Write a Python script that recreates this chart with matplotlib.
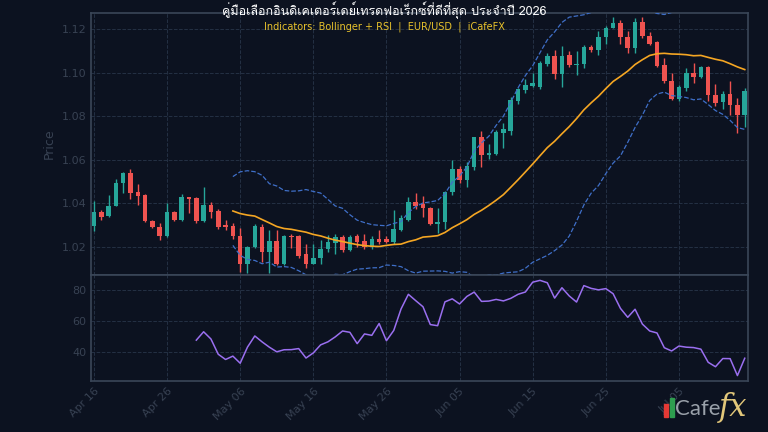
import matplotlib
matplotlib.use("Agg")
import matplotlib.pyplot as plt
import matplotlib.dates as mdates
from matplotlib import font_manager
from matplotlib.ft2font import FT2Font
import numpy as np
import pandas as pd

# EUR/USD daily candles (Apr 16 -> Jul 14)
start_date = "2026-04-16"
opens = [1.0298, 1.0361, 1.0341, 1.0390, 1.0495, 1.0541, 1.0452, 1.0437, 1.0318, 1.0292,
         1.0249, 1.0360, 1.0326, 1.0429, 1.0423, 1.0318, 1.0395, 1.0364, 1.0301, 1.0298,
         1.0252, 1.0123, 1.0200, 1.0290, 1.0178, 1.0228, 1.0124, 1.0250, 1.0250, 1.0167,
         1.0124, 1.0152, 1.0189, 1.0220, 1.0247, 1.0186, 1.0250, 1.0227, 1.0201, 1.0236,
         1.0239, 1.0224, 1.0280, 1.0326, 1.0408, 1.0397, 1.0377, 1.0308, 1.0316, 1.0453,
         1.0560, 1.0507, 1.0568, 1.0703, 1.0622, 1.0626, 1.0724, 1.0733, 1.0871, 1.0920,
         1.0939, 1.0935, 1.1039, 1.1076, 1.0993, 1.1082, 1.1033, 1.1039, 1.1119, 1.1101,
         1.1162, 1.1205, 1.1228, 1.1162, 1.1113, 1.1232, 1.1166, 1.1140, 1.1033, 1.0963,
         1.0880, 1.0929, 1.0998, 1.0978, 1.1024, 1.0898, 1.0865, 1.0901, 1.0850, 1.0807]
highs = [1.0410, 1.0369, 1.0437, 1.0513, 1.0544, 1.0557, 1.0487, 1.0441, 1.0323, 1.0310,
         1.0400, 1.0364, 1.0441, 1.0431, 1.0429, 1.0475, 1.0406, 1.0375, 1.0326, 1.0310,
         1.0287, 1.0206, 1.0305, 1.0305, 1.0277, 1.0280, 1.0254, 1.0262, 1.0254, 1.0213,
         1.0213, 1.0232, 1.0254, 1.0262, 1.0254, 1.0254, 1.0259, 1.0262, 1.0250, 1.0280,
         1.0250, 1.0369, 1.0346, 1.0430, 1.0450, 1.0434, 1.0383, 1.0377, 1.0455, 1.0599,
         1.0571, 1.0591, 1.0705, 1.0733, 1.0672, 1.0736, 1.0770, 1.0886, 1.0927, 1.0969,
         1.0999, 1.1055, 1.1088, 1.1104, 1.1122, 1.1100, 1.1097, 1.1125, 1.1125, 1.1192,
         1.1212, 1.1254, 1.1243, 1.1192, 1.1250, 1.1254, 1.1186, 1.1143, 1.1067, 1.0998,
         1.0941, 1.1021, 1.1044, 1.1029, 1.1029, 1.0948, 1.0914, 1.0960, 1.0883, 1.0929]
lows = [1.0272, 1.0326, 1.0338, 1.0387, 1.0449, 1.0421, 1.0395, 1.0314, 1.0287, 1.0231,
        1.0246, 1.0321, 1.0318, 1.0354, 1.0311, 1.0314, 1.0334, 1.0283, 1.0280, 1.0237,
        1.0087, 1.0083, 1.0195, 1.0132, 1.0082, 1.0117, 1.0118, 1.0198, 1.0152, 1.0106,
        1.0121, 1.0124, 1.0178, 1.0167, 1.0178, 1.0182, 1.0201, 1.0193, 1.0193, 1.0216,
        1.0220, 1.0216, 1.0274, 1.0320, 1.0375, 1.0336, 1.0300, 1.0265, 1.0285, 1.0438,
        1.0495, 1.0476, 1.0553, 1.0568, 1.0602, 1.0622, 1.0652, 1.0714, 1.0856, 1.0905,
        1.0935, 1.0923, 1.1030, 1.0969, 1.0935, 1.1024, 1.0990, 1.1021, 1.1094, 1.1082,
        1.1131, 1.1202, 1.1131, 1.1090, 1.1090, 1.1156, 1.1128, 1.1024, 1.0952, 1.0876,
        1.0871, 1.0914, 1.0952, 1.0975, 1.0868, 1.0845, 1.0834, 1.0807, 1.0723, 1.0749]
closes = [1.0360, 1.0338, 1.0390, 1.0495, 1.0541, 1.0449, 1.0434, 1.0318, 1.0292, 1.0249,
          1.0360, 1.0326, 1.0429, 1.0421, 1.0318, 1.0395, 1.0360, 1.0292, 1.0292, 1.0249,
          1.0123, 1.0200, 1.0298, 1.0178, 1.0228, 1.0124, 1.0250, 1.0244, 1.0158, 1.0121,
          1.0152, 1.0189, 1.0224, 1.0244, 1.0186, 1.0247, 1.0224, 1.0201, 1.0238, 1.0224,
          1.0224, 1.0285, 1.0331, 1.0408, 1.0390, 1.0377, 1.0305, 1.0316, 1.0453, 1.0560,
          1.0507, 1.0571, 1.0703, 1.0622, 1.0629, 1.0727, 1.0739, 1.0874, 1.0923, 1.0943,
          1.0951, 1.1042, 1.1076, 1.0993, 1.1076, 1.1033, 1.1039, 1.1116, 1.1101, 1.1162,
          1.1205, 1.1228, 1.1162, 1.1113, 1.1232, 1.1166, 1.1131, 1.1029, 1.0963, 1.0880,
          1.0932, 1.0998, 1.0978, 1.1024, 1.0895, 1.0860, 1.0901, 1.0850, 1.0807, 1.0917]

title_text = "คู่มือเลือกอินดิเคเตอร์เดย์เทรดฟอเร็กซ์ที่ดีที่สุด ประจำปี 2026"
subtitle_text = "Indicators: Bollinger + RSI  |  EUR/USD  |  iCafeFX"

BG = "#0c1220"
UP = "#26a69a"
DOWN = "#ef5350"
GRID = "#243044"
SPINE = "#3a4658"
TICK = "#384253"


def thai_font():
    # pick any installed font that actually has Thai glyphs
    for f in font_manager.fontManager.ttflist:
        try:
            if 0x0E04 in FT2Font(f.fname).get_charmap():
                return f.name
        except Exception:
            continue
    return "DejaVu Sans"


df = pd.DataFrame({"open": opens, "high": highs, "low": lows, "close": closes})
df.index = pd.date_range(start_date, periods=len(df), freq="D")

# indicators derived from the closes (SMA20, Bollinger 20/2, RSI14)
sma = df["close"].rolling(20).mean()
std = df["close"].rolling(20).std()
upper = sma + 2 * std
lower = sma - 2 * std
delta = df["close"].diff()
gain = delta.clip(lower=0).rolling(14).mean()
loss = (-delta.clip(upper=0)).rolling(14).mean()
rsi = 100 - 100 / (1 + gain / loss)

x = mdates.date2num(df.index.to_pydatetime())

fig = plt.figure(figsize=(7.68, 4.32), dpi=100, facecolor=BG)
ax = fig.add_axes([0.1185, 0.3634, 0.8555, 0.6066])
ax2 = fig.add_axes([0.1185, 0.118, 0.8555, 0.2454], sharex=ax)

for a in (ax, ax2):
    a.set_facecolor(BG)
    for s in a.spines.values():
        s.set_color(SPINE)
        s.set_linewidth(1.2)
    a.grid(True, color=GRID, linestyle="--", linewidth=0.7)
    a.tick_params(colors=TICK, labelsize=8, length=0)
    a.set_axisbelow(True)

# candles
w = 0.62
for xi, o, h, l, c in zip(x, df["open"], df["high"], df["low"], df["close"]):
    col = UP if c >= o else DOWN
    ax.vlines(xi, l, h, color=col, linewidth=1, zorder=2)
    ax.bar(xi, max(abs(c - o), 0.00012), bottom=min(o, c), width=w,
           color=col, edgecolor=col, linewidth=0, zorder=3)

ax.plot(x, sma, color="#f5a623", linewidth=1.2, zorder=4)
ax.plot(x, upper, color="#3f6fc8", linewidth=0.9, linestyle="--", zorder=4)
ax.plot(x, lower, color="#3f6fc8", linewidth=0.9, linestyle="--", zorder=4)

ax.set_ylim(1.0072, 1.1273)
ax.set_yticks([1.02, 1.04, 1.06, 1.08, 1.10, 1.12])
ax.yaxis.set_major_formatter(plt.FormatStrFormatter("%.2f"))
ax.set_ylabel("Price", color=TICK, fontsize=9)
ax.tick_params(labelbottom=False)

ax2.plot(x, rsi, color="#9a6ff0", linewidth=1.1)
ax2.set_ylim(21, 90)
ax2.set_yticks([40, 60, 80])

ticks = pd.date_range(start_date, periods=9, freq="10D")
ax2.set_xticks(mdates.date2num(ticks.to_pydatetime()))
ax2.xaxis.set_major_formatter(mdates.DateFormatter("%b %d"))
ax2.set_xlim(x[0] - 0.4, x[-1] + 0.45)
for lbl in ax2.get_xticklabels():
    lbl.set_rotation(45)
    lbl.set_ha("right")
    lbl.set_rotation_mode("anchor")

# titles
fig.text(0.5, 0.977, title_text, color="white", fontsize=9, ha="center", va="center",
         family=[thai_font(), "DejaVu Sans"])
fig.text(0.5, 0.937, subtitle_text, color="#e8c22c", fontsize=7, ha="center", va="center")

# logo
fig.patches.append(plt.Rectangle((0.864, 0.034), 0.006, 0.03, transform=fig.transFigure,
                                 color="#e53935", zorder=5))
fig.patches.append(plt.Rectangle((0.872, 0.034), 0.006, 0.045, transform=fig.transFigure,
                                 color="#2e9e4f", zorder=5))
fig.text(0.879, 0.030, "Cafe", color="#9aa1aa", fontsize=16, ha="left", va="bottom",
         family="Lato")
fig.text(0.936, 0.020, "fx", color="#e2c77a", fontsize=22, ha="left", va="bottom",
         style="italic", family="DejaVu Serif")

fig.savefig("out.png", dpi=100, facecolor=BG)
